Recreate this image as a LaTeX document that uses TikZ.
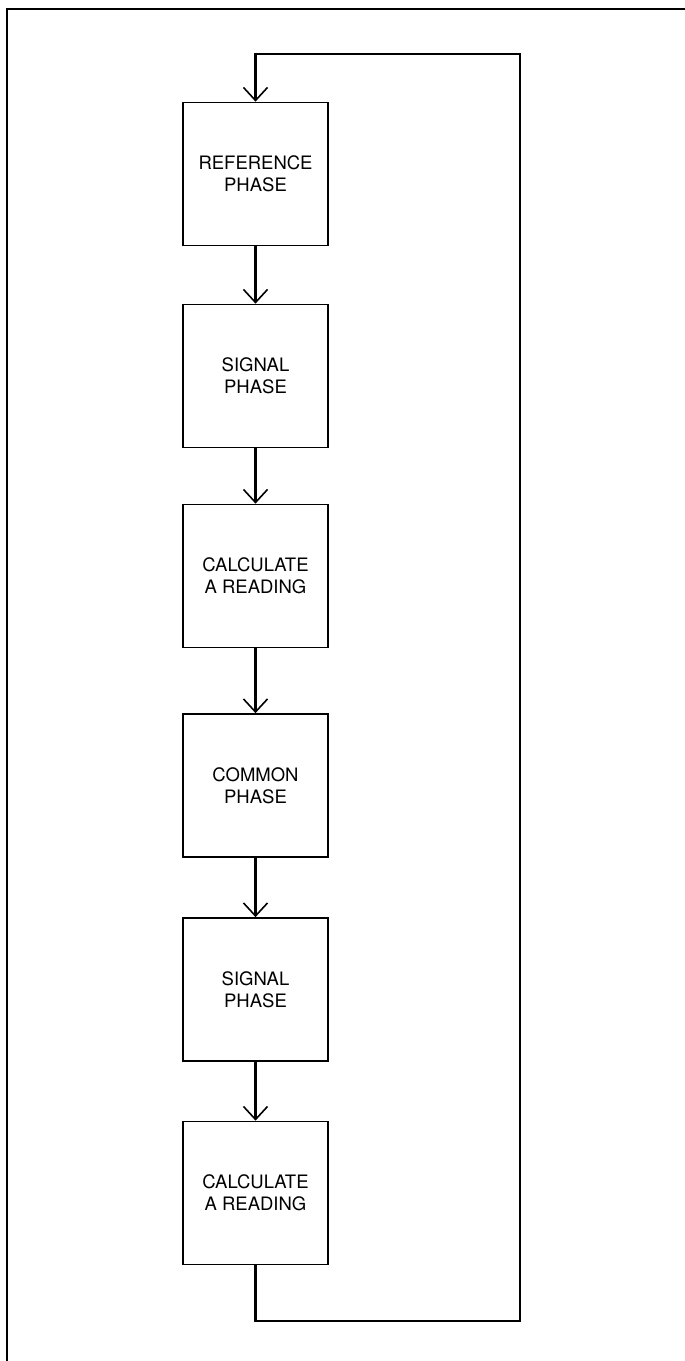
\documentclass[tikz,border=0pt]{standalone}
\usepackage{fontspec}
\setmainfont{TeX Gyre Heros}
\usepackage{tikz}
\usetikzlibrary{arrows.meta, positioning}
\tikzset{
  phasebox/.style={rectangle, draw=black, fill=white, line width=1.7pt,
    minimum width=145pt, minimum height=143pt, align=center,
    font=\fontsize{18.5}{22}\selectfont},
  flow/.style={-{Straight Barb[length=13pt, width=24pt, line width=1.6pt]},
    line width=2.3pt, color=black}
}

\begin{document}
\begin{tikzpicture}[x=1pt, y=-1pt]
  \useasboundingbox (0,0) rectangle (685,1361);
  % Frame
  \draw[line width=1.8pt] (7,1361) -- (7,9) -- (685,9);

  % Phases
  \node[phasebox] (ref)   at (255.5, 174)  {REFERENCE\\PHASE};
  \node[phasebox] (sigA)  at (255.5, 376)  {SIGNAL\\PHASE};
  \node[phasebox] (calcA) at (255.5, 576)  {CALCULATE\\A READING};
  \node[phasebox] (com)   at (255.5, 785.5) {COMMON\\PHASE};
  \node[phasebox] (sigB)  at (255.5, 989.5) {SIGNAL\\PHASE};
  \node[phasebox] (calcB) at (255.5, 1193) {CALCULATE\\A READING};

  % Flows
  \draw[flow] (ref) -- (sigA);
  \draw[flow] (sigA) -- (calcA);
  \draw[flow] (calcA) -- (com);
  \draw[flow] (com) -- (sigB);
  \draw[flow] (sigB) -- (calcB);

  % Loop back
  \coordinate (loopB) at (255.5, 1321);
  \coordinate (loopR) at (520, 54);
  \draw[flow] (calcB.south) -- (loopB) -| (loopR) -| (ref.north);
\end{tikzpicture}
\end{document}
